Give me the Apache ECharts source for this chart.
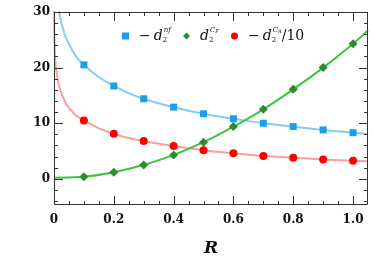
<!DOCTYPE html>
<html><head><meta charset="utf-8">
<script src="https://cdn.jsdelivr.net/npm/echarts@6/dist/echarts.min.js"></script>
<style>html,body{margin:0;padding:0;background:#fff}
#wrap{position:relative;width:374px;height:263px}
#ax,#c,#lg{position:absolute;left:0;top:0;width:374px;height:263px}
#c,#lg{pointer-events:none}</style>
</head><body><div id="wrap"><div id="ax"></div><div id="c"></div><div id="lg"></div></div>
<script>
// ---- data ----
const markR = [0.1, 0.2, 0.3, 0.4, 0.5, 0.6, 0.7, 0.8, 0.9, 1.0];
const nfMarks = [20.5, 16.7, 14.4, 12.9, 11.7, 10.8, 10.0, 9.4, 8.8, 8.3];
const cfMarks = [0.4, 1.2, 2.5, 4.3, 6.6, 9.4, 12.5, 16.1, 20.0, 24.3];
const caMarks = [10.5, 8.1, 6.8, 5.9, 5.15, 4.6, 4.1, 3.8, 3.5, 3.25];

const nfCurveR = [0.012, 0.017, 0.031, 0.054, 0.1, 0.2, 0.3, 0.4, 0.5, 0.6, 0.7, 0.8, 0.9, 1.0, 1.05];
const nfCurveV = [32.2, 30.2, 26.8, 23.8, 20.5, 16.7, 14.4, 12.9, 11.7, 10.8, 10.0, 9.4, 8.8, 8.3, 8.05];
const cfCurveR = [0.0, 0.1, 0.2, 0.3, 0.4, 0.5, 0.6, 0.7, 0.8, 0.9, 1.0, 1.05];
const cfCurveV = [0.2, 0.4, 1.2, 2.5, 4.3, 6.6, 9.4, 12.5, 16.1, 20.0, 24.3, 26.7];
const caCurveR = [0.0003, 0.003, 0.014, 0.031, 0.054, 0.1, 0.2, 0.3, 0.4, 0.5, 0.6, 0.7, 0.8, 0.9, 1.0, 1.05];
const caCurveV = [30.5, 22.3, 17.4, 14.6, 12.5, 10.5, 8.1, 6.8, 5.9, 5.15, 4.6, 4.1, 3.8, 3.5, 3.25, 3.15];

const xTicks = [0, 0.2, 0.4, 0.6, 0.8, 1.0];
const xTickLabels = ['0', '0.2', '0.4', '0.6', '0.8', '1.0'];
const xMinorTicks = [0.05, 0.1, 0.15, 0.25, 0.3, 0.35, 0.45, 0.5, 0.55, 0.65, 0.7, 0.75, 0.85, 0.9, 0.95];
const yTicks = [0, 10, 20, 30];
const yTickLabels = ['0', '10', '20', '30'];
const yMinorTicks = [-4, -2, 2, 4, 6, 8, 12, 14, 16, 18, 22, 24, 26, 28];
const xRange = [0, 1.05];
const yRange = [-4.7, 30];

const zip = (a, b) => a.map((v, i) => [v, b[i]]);
const gridBox = () => ({left: 54, right: 6, top: 12, bottom: 58, outerBoundsMode: 'none'});
const frameColor = '#333';

// ---- label layer (tick labels + axis name) ----
const labelFont = {fontFamily: 'DejaVu Serif', fontWeight: 'bold', fontSize: 12, color: '#111'};
echarts.init(document.getElementById('ax'), null, {renderer: 'canvas'}).setOption({
  animation: false,
  grid: gridBox(),
  xAxis: {type: 'value', min: xRange[0], max: xRange[1], position: 'bottom',
    axisLine: {show: false}, axisTick: {show: false}, splitLine: {show: false},
    axisLabel: Object.assign({show: true, margin: 9, customValues: xTicks,
      formatter: val => xTickLabels[xTicks.findIndex(t => Math.abs(t - val) < 1e-6)]}, labelFont),
    name: 'R', nameLocation: 'middle', nameGap: 35,
    nameTextStyle: {fontFamily: 'DejaVu Serif', fontWeight: 'bold', fontStyle: 'italic', fontSize: 17, color: '#111'}},
  yAxis: {type: 'value', min: yRange[0], max: yRange[1], position: 'left',
    axisLine: {show: false}, axisTick: {show: false}, splitLine: {show: false},
    axisLabel: Object.assign({show: true, margin: 4, customValues: yTicks,
      formatter: val => yTickLabels[yTicks.findIndex(t => Math.abs(t - val) < 1e-6)]}, labelFont)},
  series: [{type: 'line', data: [], showSymbol: false}]
});

// ---- tick marks and frame drawn through the chart's own coordinate system ----
const px = v => Math.round(v) + 0.5;
const lineStyle = {stroke: frameColor, lineWidth: 1};
function xTickSeries(values, len) {
  return {type: 'custom', silent: true, clip: false, z: 6,
    data: values.map(v => [v, yRange[0]]),
    renderItem: (params, api) => {
      const v = api.value(0);
      const b = api.coord([v, yRange[0]]), t = api.coord([v, yRange[1]]);
      const x = px(b[0]);
      return {type: 'group', children: [
        {type: 'line', shape: {x1: x, y1: b[1], x2: x, y2: b[1] - len}, style: lineStyle},
        {type: 'line', shape: {x1: x, y1: t[1], x2: x, y2: t[1] + len}, style: lineStyle}
      ]};
    }};
}
function yTickSeries(values, len) {
  return {type: 'custom', silent: true, clip: false, z: 6,
    data: values.map(v => [xRange[0], v]),
    renderItem: (params, api) => {
      const v = api.value(1);
      const l = api.coord([xRange[0], v]), r = api.coord([xRange[1], v]);
      const y = px(l[1]);
      return {type: 'group', children: [
        {type: 'line', shape: {x1: l[0], y1: y, x2: l[0] + len, y2: y}, style: lineStyle},
        {type: 'line', shape: {x1: r[0], y1: y, x2: r[0] - len, y2: y}, style: lineStyle}
      ]};
    }};
}
const frameSeries = {type: 'custom', silent: true, clip: false, z: 7,
  data: [[xRange[0], yRange[1]]],
  renderItem: (params, api) => {
    const a = api.coord([xRange[0], yRange[1]]), b = api.coord([xRange[1], yRange[0]]);
    const x0 = px(a[0]), y0 = px(a[1]), x1 = px(b[0]) - 1, y1 = px(b[1]) - 1;
    return {type: 'rect', shape: {x: x0, y: y0, width: x1 - x0, height: y1 - y0},
      style: {fill: null, stroke: frameColor, lineWidth: 1}};
  }};

// ---- series layer ----
const colors = {nf: '#1a9fec', CF: '#2a8c2a', CA: '#ff0000'};
const symbols = {nf: ['rect', 7], CF: ['diamond', 9], CA: ['circle', 8]};
echarts.init(document.getElementById('c'), null, {renderer: 'canvas'}).setOption({
  animation: false,
  backgroundColor: 'transparent',
  grid: gridBox(),
  xAxis: {type: 'value', show: false, min: xRange[0], max: xRange[1]},
  yAxis: {type: 'value', show: false, min: yRange[0], max: yRange[1]},
  series: [
    {type: 'line', data: zip(nfCurveR, nfCurveV), smooth: 0.5, showSymbol: false,
      lineStyle: {color: '#82cdf6', width: 2}, z: 2, clip: true},
    {type: 'line', data: zip(caCurveR, caCurveV), smooth: 0.5, showSymbol: false,
      lineStyle: {color: '#ff9d9d', width: 2}, z: 2, clip: true},
    {type: 'line', data: zip(cfCurveR, cfCurveV), smooth: 0.5, showSymbol: false,
      lineStyle: {color: '#3cc63c', width: 2}, z: 2, clip: true},
    {name: 'nf', type: 'scatter', data: zip(markR, nfMarks), symbol: symbols.nf[0], symbolSize: symbols.nf[1],
      itemStyle: {color: colors.nf, opacity: 1}, z: 4},
    {name: 'CF', type: 'scatter', data: zip(markR, cfMarks), symbol: symbols.CF[0], symbolSize: symbols.CF[1],
      itemStyle: {color: colors.CF, opacity: 1}, z: 4},
    {name: 'CA', type: 'scatter', data: zip(markR, caMarks), symbol: symbols.CA[0], symbolSize: symbols.CA[1],
      itemStyle: {color: colors.CA, opacity: 1}, z: 4},
    xTickSeries(xTicks, 9), xTickSeries(xMinorTicks, 4),
    yTickSeries(yTicks, 9), yTickSeries(yMinorTicks, 4),
    frameSeries
  ]
});

// ---- legend layer ----
const rich = {
  sp: {width: 5, fontSize: 10},
  sp2: {width: 3, fontSize: 10},
  m: {fontFamily: 'DejaVu Serif', fontSize: 14, color: '#111'},
  d: {fontFamily: 'DejaVu Serif', fontStyle: 'italic', fontSize: 14, color: '#111'},
  sub: {fontFamily: 'DejaVu Serif', fontSize: 7, color: '#111', padding: [9, 0, 0, 0], width: 1},
  sup: {fontFamily: 'DejaVu Serif', fontStyle: 'italic', fontSize: 7, color: '#111', padding: [0, 0, 11, 0]},
  ssub: {fontFamily: 'DejaVu Serif', fontStyle: 'italic', fontSize: 5, color: '#111', padding: [0, 0, 8, 0]},
  t: {fontFamily: 'DejaVu Serif', fontSize: 14, color: '#111'}
};
const legendText = {
  nf: '{sp| }{m|−}{sp2| }{d|d}{sub|2}{sup|nf}',
  CF: '{sp| }{d|d}{sub|2}{sup|C}{ssub|F}',
  CA: '{sp| }{m|−}{sp2| }{d|d}{sub|2}{sup|C}{ssub|A}{t|/10}'
};
const legendNames = ['nf', 'CF', 'CA'];
const legendLefts = [122, 183, 231];
echarts.init(document.getElementById('lg'), null, {renderer: 'canvas'}).setOption({
  animation: false,
  backgroundColor: 'transparent',
  grid: gridBox(),
  xAxis: {type: 'value', show: false, min: 0, max: 1},
  yAxis: {type: 'value', show: false, min: 0, max: 1},
  legend: legendNames.map((n, i) => ({
    data: [n], left: legendLefts[i], top: 27, padding: 0, itemWidth: 7, itemHeight: 7,
    formatter: nm => legendText[nm], textStyle: {rich: rich}, selectedMode: false
  })),
  series: legendNames.map(n => ({name: n, type: 'scatter', data: [], symbol: symbols[n][0],
    itemStyle: {color: colors[n], opacity: 1}}))
});
</script></body></html>
